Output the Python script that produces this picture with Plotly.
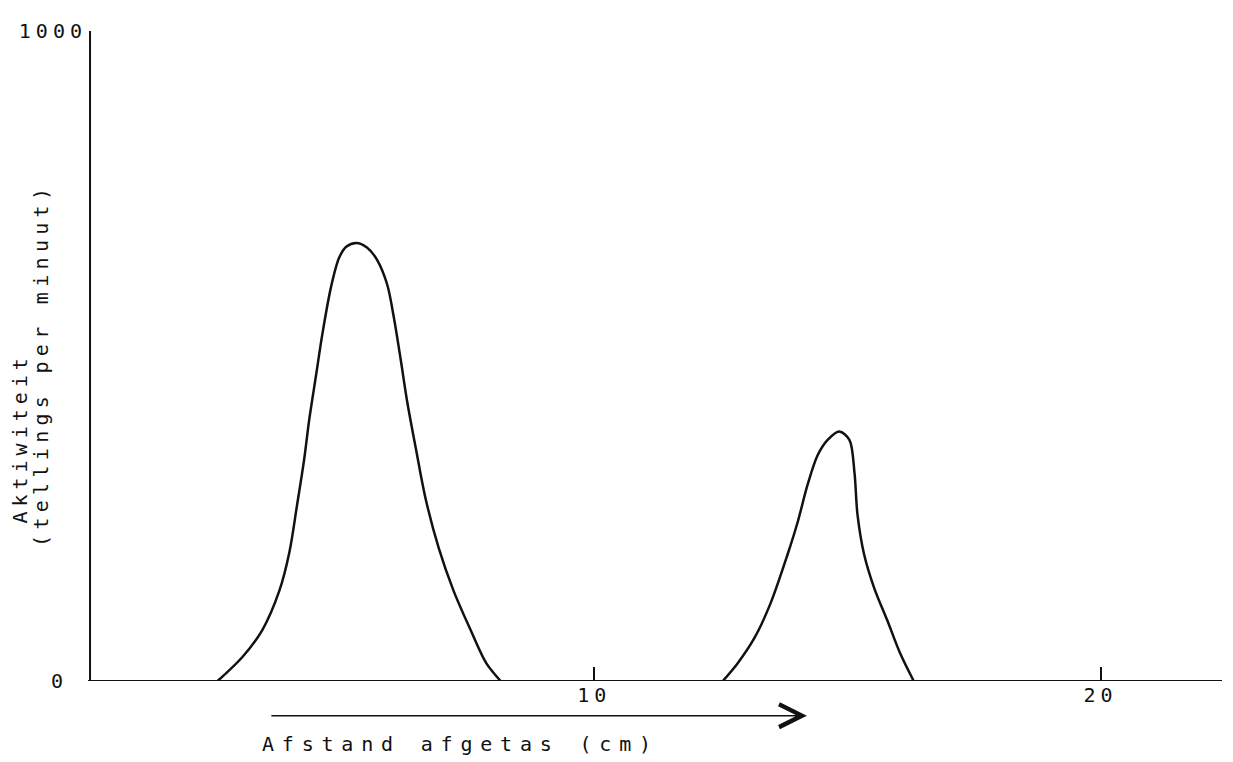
import plotly.graph_objects as go

# Peak 1 (distance cm, counts per minute)
peak1_x = [2.56, 3.05, 3.44, 3.78, 3.98, 4.13, 4.27, 4.37, 4.51, 4.63, 4.80, 4.96, 5.10, 5.30,
           5.51, 5.71, 5.91, 6.04, 6.18, 6.30, 6.48, 6.67, 6.93, 7.22, 7.56, 7.87, 8.15]
peak1_y = [0, 37, 78, 139, 199, 271, 341, 402, 473, 534, 606, 651, 668, 674,
           667, 648, 610, 560, 493, 432, 356, 280, 204, 139, 78, 27, 0]

# Peak 2
peak2_x = [12.54, 12.83, 13.17, 13.48, 13.82, 14.02, 14.21, 14.41, 14.61, 14.84, 15.04,
           15.14, 15.20, 15.33, 15.53, 15.79, 16.04, 16.31]
peak2_y = [0, 27, 67, 119, 195, 245, 301, 347, 371, 384, 371,
           321, 256, 195, 143, 93, 43, 0]

x_ticks = [10, 20]
x_tick_labels = ["10", "20"]
y_ticks = [1000]
y_tick_labels = ["1000"]

FONT = "DejaVu Sans Mono"
INK = "#111111"

def sp(t, s):
    return f'<span style="letter-spacing:{s}px">{t}</span>'

fig = go.Figure()
for xs, ys in [(peak1_x, peak1_y), (peak2_x, peak2_y)]:
    fig.add_trace(go.Scatter(x=xs, y=ys, mode="lines",
                             line=dict(color=INK, width=2.5, shape="spline", smoothing=0.9),
                             hoverinfo="skip", showlegend=False))

# page body adds an 8px margin, so the figure is 8px smaller and shifted
fig.update_layout(
    width=1225, height=754,
    margin=dict(l=75, r=11, t=16, b=81),
    paper_bgcolor="white", plot_bgcolor="white",
    font=dict(family=FONT, size=20, color=INK),
    showlegend=False,
    xaxis=dict(range=[0, 22.4], showgrid=False, zeroline=False,
               showline=False, tickvals=x_ticks,
               ticktext=[sp(t, 5) for t in x_tick_labels],
               ticks="inside", ticklen=14, tickwidth=1.5, tickcolor=INK,
               tickfont=dict(family=FONT, size=20, color=INK)),
    yaxis=dict(range=[0, 1000], showgrid=False, zeroline=False,
               showline=False, tickvals=y_ticks,
               ticktext=[sp(t, 5) for t in y_tick_labels],
               ticks="inside", ticklen=20, tickwidth=1.5, tickcolor=INK,
               tickfont=dict(family=FONT, size=20, color=INK)),
)

# axis lines
fig.add_shape(type="line", xref="paper", yref="y", x0=0, x1=1, y0=0, y1=0,
              line=dict(color=INK, width=2))
fig.add_shape(type="line", xref="x", yref="y", x0=0.04, x1=0.04, y0=0, y1=1000,
              line=dict(color=INK, width=2))

# y "0" label
fig.add_annotation(x=-0.027, xref="paper", y=0, yref="y", text="0", showarrow=False,
                   xanchor="center", yanchor="middle",
                   font=dict(family=FONT, size=20, color=INK))

# y axis title (two lines)
fig.add_annotation(x=-0.060, xref="paper", y=(681 - 436) / 657, yref="paper",
                   text=sp("Aktiwiteit", 5), textangle=-90, showarrow=False,
                   xanchor="center", yanchor="middle",
                   font=dict(family=FONT, size=20, color=INK))
fig.add_annotation(x=-0.041, xref="paper", y=(681 - 362) / 657, yref="paper",
                   text=sp("(tellings per minuut)", 5.3), textangle=-90, showarrow=False,
                   xanchor="center", yanchor="middle",
                   font=dict(family=FONT, size=20, color=INK))

# direction arrow
fig.add_annotation(x=14.2, xref="x", y=-35 / 657, yref="paper",
                   ax=-537, ay=0, axref="pixel", ayref="pixel",
                   showarrow=True, arrowhead=5, arrowsize=3.0, arrowwidth=1.5,
                   arrowcolor=INK, text="")

# x title
fig.add_annotation(x=(457 - 83) / 50.8, xref="x", y=-64 / 657, yref="paper",
                   text=sp("Afstand afgetas (cm)", 7.8), showarrow=False,
                   xanchor="center", yanchor="middle",
                   font=dict(family=FONT, size=20, color=INK))

fig.write_html("out.html")
